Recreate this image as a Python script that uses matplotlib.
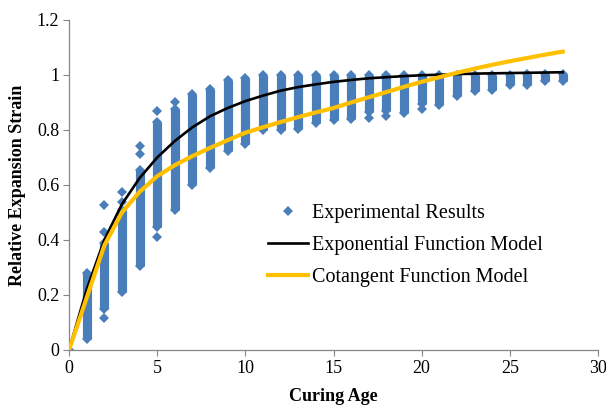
import matplotlib
matplotlib.use("Agg")
import matplotlib.pyplot as plt
from matplotlib.lines import Line2D

plt.rcParams['font.family'] = ['Liberation Serif', 'DejaVu Serif']

# curing ages (days) and the spread of measured relative expansion strain per age
ages = list(range(0, 29))
band_lo = [0.0, 0.04, 0.15, 0.21, 0.305, 0.448, 0.509, 0.60, 0.66, 0.725,
           0.75, 0.80, 0.80, 0.805, 0.825, 0.835, 0.84, 0.865, 0.87, 0.86,
           0.895, 0.89, 0.925, 0.94, 0.945, 0.965, 0.965, 0.978, 0.978]
band_hi = [0.0, 0.28, 0.39, 0.509, 0.655, 0.83, 0.875, 0.93, 0.95, 0.98,
           0.99, 1.0, 1.0, 1.0, 1.0, 1.0, 1.0, 1.0, 1.0, 1.0,
           1.0, 1.0, 1.0, 1.0, 1.0, 1.0, 1.004, 1.004, 1.004]

# isolated points that sit apart from the main spread
out_age = [2, 2, 2, 3, 3, 4, 4, 5, 5, 6, 17, 18, 20]
out_val = [0.115, 0.43, 0.527, 0.539, 0.576, 0.712, 0.743, 0.412, 0.869, 0.903,
           0.845, 0.85, 0.878]

exp_model = [0.0, 0.22, 0.40, 0.53, 0.625, 0.70, 0.76, 0.81, 0.85, 0.88,
             0.905, 0.925, 0.943, 0.956, 0.966, 0.975, 0.982, 0.988, 0.992, 0.996,
             0.999, 1.001, 1.003, 1.005, 1.006, 1.007, 1.008, 1.009, 1.01]
cot_model = [0.0, 0.19, 0.38, 0.50, 0.575, 0.632, 0.672, 0.705, 0.735, 0.763,
             0.79, 0.81, 0.829, 0.847, 0.864, 0.88, 0.90, 0.919, 0.938, 0.957,
             0.975, 0.992, 1.008, 1.023, 1.037, 1.05, 1.062, 1.074, 1.085]

blue = '#4A7EBB'
grey = '#868686'

fig = plt.figure(figsize=(6.06, 4.08), dpi=100)
ax = fig.add_axes([0.1139, 0.1422, 0.8729, 0.8088])

ax.vlines(ages, band_lo, band_hi, color=blue, linewidth=6.6, zorder=2)
ax.plot(ages + ages, band_lo + band_hi, 'D', color=blue, markersize=5.1,
        markeredgewidth=0, linestyle='none', zorder=2)
ax.plot(out_age, out_val, 'D', color=blue, markersize=5.1,
        markeredgewidth=0, linestyle='none', zorder=2)

ax.plot(ages, exp_model, color='black', linewidth=1.9, zorder=3)
ax.plot(ages, cot_model, color='#FFC000', linewidth=3.0, zorder=4)

ax.set_xlim(0, 30)
ax.set_ylim(0, 1.2)
ax.set_xticks(range(0, 31, 5))
ax.set_yticks([0, 0.2, 0.4, 0.6, 0.8, 1.0, 1.2])
ax.set_yticklabels(['0', '0.2', '0.4', '0.6', '0.8', '1', '1.2'])
ax.tick_params(direction='out', length=4, width=0.8, color=grey,
               labelsize=13, pad=3)
for side in ['top', 'right']:
    ax.spines[side].set_visible(False)
for side in ['left', 'bottom']:
    ax.spines[side].set_color(grey)
    ax.spines[side].set_linewidth(0.9)

ax.set_xlabel('Curing Age', fontsize=13, fontweight='bold', labelpad=8)
ax.set_ylabel('Relative Expansion Strain', fontsize=13, fontweight='bold', labelpad=8)

handles = [
    Line2D([], [], marker='D', color=blue, markersize=5.6, markeredgewidth=0, linestyle='none'),
    Line2D([], [], color='black', linewidth=1.9),
    Line2D([], [], color='#FFC000', linewidth=3.0),
]
labels = ['Experimental Results', 'Exponential Function Model', 'Cotangent Function Model']
ax.legend(handles, labels, loc='upper left', bbox_to_anchor=(0.376, 0.443),
          frameon=False, fontsize=14.5, handlelength=2.0, handletextpad=0.2,
          labelspacing=0.65, borderaxespad=0, borderpad=0)

fig.savefig('out.png', dpi=100)
